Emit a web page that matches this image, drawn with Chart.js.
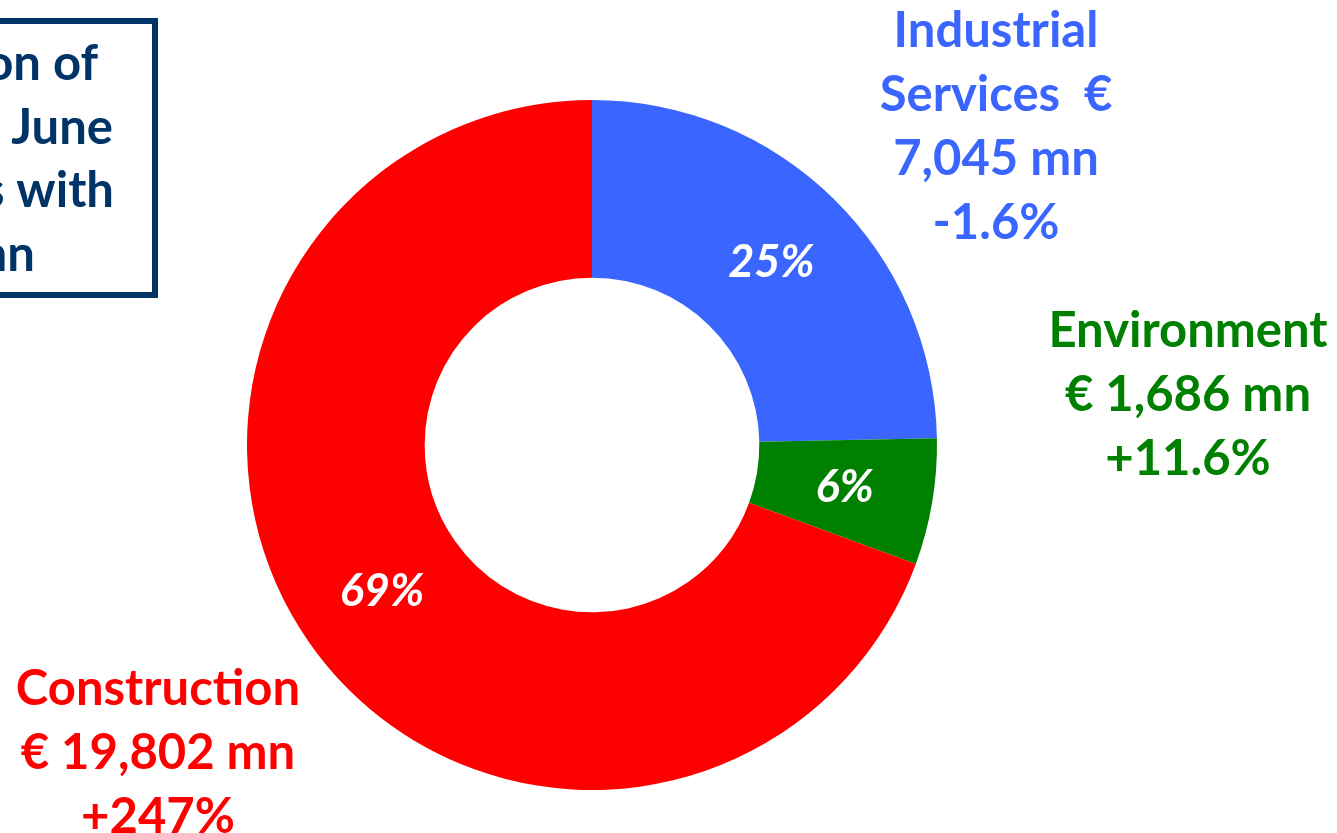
<!DOCTYPE html>
<html>
<head>
<meta charset="utf-8">
<script src="https://cdn.jsdelivr.net/npm/chart.js@4/dist/chart.umd.min.js"></script>
<style>
  html, body { margin: 0; padding: 0; background: #fff; }
  canvas { display: block; }
</style>
</head>
<body>
<canvas id="orders" width="1337" height="833"></canvas>
<script>
const categories = ['Industrial Services', 'Environment', 'Construction']
const values = [7045, 1686, 19802]
const changes = ['-1.6%', '+11.6%', '+247%']
const colors = ['#3a66ff', '#008000', '#ff0000']
const titleLines = ['Distribution of', 'order backlog at 30  June', '2018 by divisions with', 'total of € 28,533 mn']

const total = values.reduce((a, b) => a + b, 0)
const fmt = v => v.toLocaleString('en-US')

// outside labels, one block per slice
const labelLines = [
  ['Industrial', 'Services  €', fmt(values[0]) + ' mn', changes[0]],
  ['Environment', '€ ' + fmt(values[1]) + ' mn', changes[1]],
  ['Construction', '€ ' + fmt(values[2]) + ' mn', changes[2]]
]
const labelPos = [
  { x: 996, y: 47 },
  { x: 1188, y: 347 },
  { x: 158, y: 705 }
]

const FONT = 'Lato, "Open Sans", sans-serif'

const annotate = {
  id: 'annotate',
  afterDraw (chart) {
    const ctx = chart.ctx
    ctx.save()

    // title box, runs off the left edge
    ctx.strokeStyle = '#003366'
    ctx.lineWidth = 6
    ctx.strokeRect(-400, 21, 555, 274)
    ctx.fillStyle = '#003366'
    ctx.font = `bold 49px ${FONT}`
    ctx.textAlign = 'right'
    ctx.textBaseline = 'alphabetic'
    const titleRight = [98, 113, 114, 35]
    titleLines.forEach((t, i) => ctx.fillText(t, titleRight[i], 80 + i * 63.5))

    // category labels
    ctx.textAlign = 'center'
    labelLines.forEach((lines, i) => {
      ctx.fillStyle = colors[i]
      lines.forEach((t, j) => ctx.fillText(t, labelPos[i].x, labelPos[i].y + j * 64))
    })

    // percent share inside each slice
    const meta = chart.getDatasetMeta(0)
    ctx.fillStyle = '#fff'
    ctx.font = `italic bold 45px ${FONT}`
    ctx.textBaseline = 'middle'
    meta.data.forEach((arc, i) => {
      const p = arc.tooltipPosition()
      ctx.fillText(Math.round(values[i] / total * 100) + '%', p.x, p.y)
    })
    ctx.restore()
  }
}

new Chart(document.getElementById('orders'), {
  type: 'doughnut',
  data: {
    labels: categories,
    datasets: [{
      data: values,
      backgroundColor: colors,
      borderWidth: 0
    }]
  },
  options: {
    responsive: false,
    animation: false,
    cutout: '48.5%',
    layout: { padding: { left: 247, right: 400, top: 100, bottom: 43 } },
    plugins: {
      legend: { display: false },
      tooltip: { enabled: false }
    }
  },
  plugins: [annotate]
})
</script>
</body>
</html>
